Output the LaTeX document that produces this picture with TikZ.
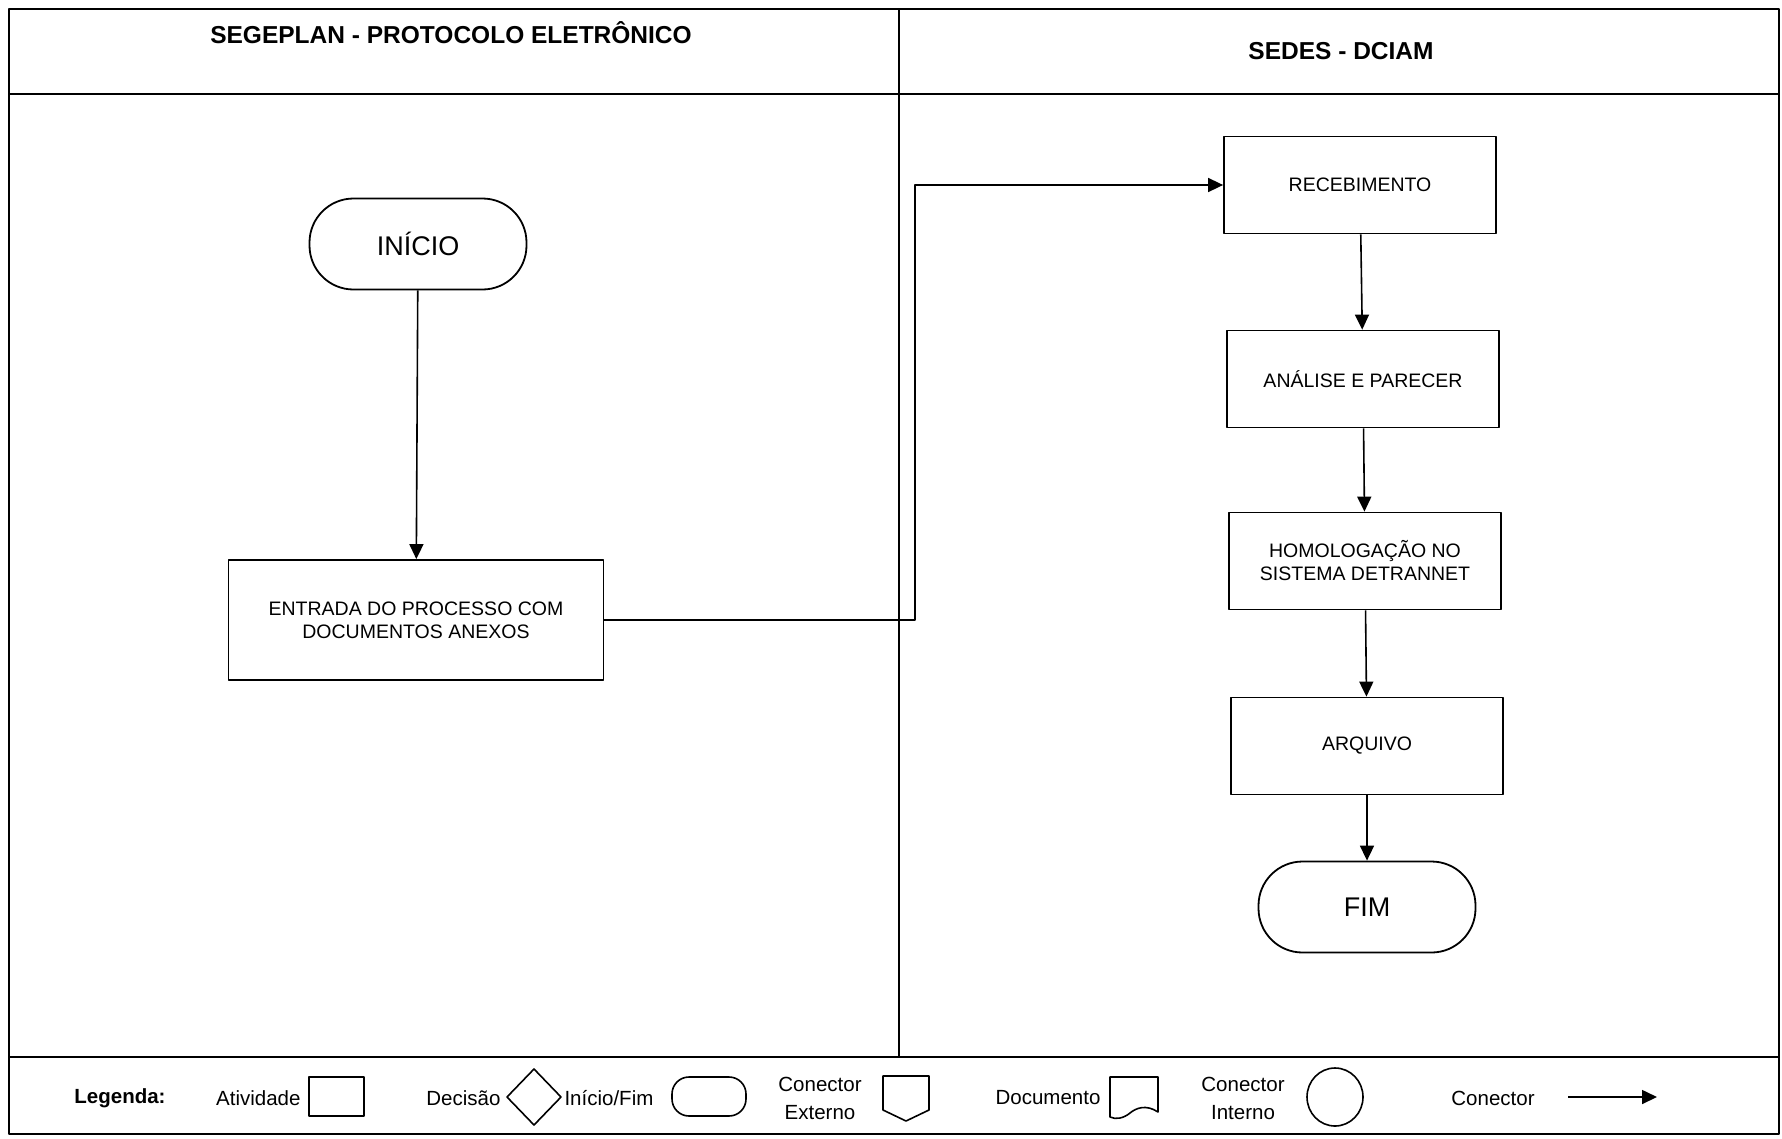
\documentclass[tikz,border=0pt]{standalone}
\usepackage{fontspec}
\setmainfont{Liberation Sans}
\usetikzlibrary{arrows.meta}
\tikzset{
  atividade/.style={draw, line width=1.8pt, minimum width=272pt, minimum height=97pt,
    align=center, font=\fontsize{19.5}{23}\selectfont},
  terminal/.style={draw, line width=1.8pt, minimum width=217pt, minimum height=91pt,
    rounded corners=44pt, font=\fontsize{27}{32}\selectfont},
  fluxo/.style={line width=1.6pt, -{Triangle[length=15pt,width=14pt]}},
  legtxt/.style={font=\fontsize{20.5}{28}\selectfont, align=center},
}
\begin{document}
\begin{tikzpicture}[line join=round, x=1pt, y=-1pt]
  \useasboundingbox (0,0) rectangle (1782,1138);
  % moldura e raias
  \draw[line width=2.8pt] (9,9) rectangle (1779,1134);
  \draw[line width=2.4pt] (9,94)--(1779,94) (9,1057)--(1779,1057) (899,9)--(899,1057);
  \node[font=\bfseries\fontsize{24.5}{28}\selectfont] (segeplan) at (451,33) {SEGEPLAN - PROTOCOLO ELETRÔNICO};
  \node[font=\bfseries\fontsize{24.5}{28}\selectfont] (sedes) at (1341,51) {SEDES - DCIAM};
  % processo
  \node[terminal] (inicio) at (418,244) {INÍCIO};
  \node[atividade, minimum width=375pt, minimum height=120pt] (entrada) at (416,620)
    {ENTRADA DO PROCESSO COM\\DOCUMENTOS ANEXOS};
  \node[atividade] (receb) at (1360,185) {RECEBIMENTO};
  \node[atividade] (analise) at (1363,379) {ANÁLISE E PARECER};
  \node[atividade] (homolog) at (1365,561) {HOMOLOGAÇÃO NO\\SISTEMA DETRANNET};
  \node[atividade] (arquivo) at (1367,746) {ARQUIVO};
  \node[terminal] (fim) at (1367,907) {FIM};
  \coordinate (c1) at (915,620);
  \coordinate (c2) at (915,185);
  \draw[fluxo] (inicio) -- (entrada);
  \draw[fluxo] (entrada.east) -- (c1) -- (c2) -- (receb.west);
  \draw[fluxo] (receb) -- (analise);
  \draw[fluxo] (analise) -- (homolog);
  \draw[fluxo] (homolog) -- (arquivo);
  \draw[fluxo] (arquivo) -- (fim);
  % legenda
  \node[font=\bfseries\fontsize{20.5}{24}\selectfont] (legenda) at (120,1098) {Legenda:};
  \node[legtxt, anchor=east] (lativ) at (304,1098) {Atividade};
  \node[legtxt, anchor=east] (ldec) at (504,1098) {Decisão};
  \node[legtxt, anchor=west] (lini) at (561,1098) {Início/Fim};
  \node[legtxt] (lext) at (820,1098) {Conector\\Externo};
  \node[legtxt, anchor=east] (ldoc) at (1104,1098) {Documento};
  \node[legtxt] (lint) at (1243,1098) {Conector\\Interno};
  \node[legtxt] (lcon) at (1493,1098) {Conector};
  \begin{scope}[line width=1.6pt]
    \draw (309,1077) rectangle (364,1116);
    \draw (534,1069) -- (561,1097) -- (534,1125) -- (507,1097) -- cycle;
    \draw[rounded corners=17pt] (672,1077) rectangle (746,1116);
    \draw (883,1076) -- (929,1076) -- (929,1110) -- (906,1121) -- (883,1110) -- cycle;
    \draw (1110,1077) -- (1158,1077) -- (1158,1112)
      .. controls (1146,1104) and (1136,1108) .. (1130,1113)
      .. controls (1124,1118) and (1116,1120) .. (1110,1117) -- cycle;
    \draw (1335,1097) ellipse [x radius=28, y radius=29];
  \end{scope}
  \coordinate (a1) at (1568,1097);
  \coordinate (a2) at (1657,1097);
  \draw[fluxo] (a1) -- (a2);
\end{tikzpicture}
\end{document}
